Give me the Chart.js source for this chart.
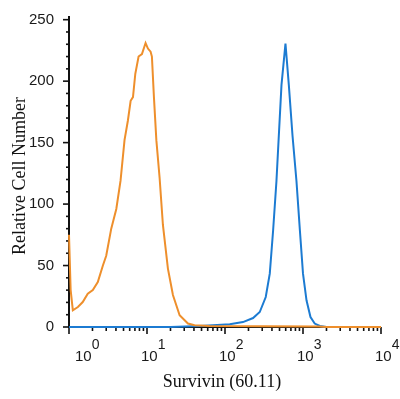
<!DOCTYPE html>
<html>
<head>
<meta charset="utf-8">
<script src="https://cdn.jsdelivr.net/npm/chart.js@4/dist/chart.umd.min.js"></script>
<style>
  body { margin: 0; background: #fff; }
  canvas { display: block; }
</style>
</head>
<body>
<canvas id="histChart" width="400" height="399"></canvas>
<script>
// isotype control (orange) - fluorescence value / cell count
var controlX = [1, 1.05, 1.12, 1.30, 1.50, 1.74, 2.02, 2.34, 2.72, 3.0, 3.48, 4.04, 4.58, 5.15, 5.69, 6.17, 6.61, 7.08, 7.80, 8.61, 9.59, 10.28, 11.12, 11.56, 12.27, 13.18, 14.52, 16.0, 18.54, 21.5, 26.2, 33.5, 40.7, 63, 316, 1585, 2000, 10000]
var controlY = [75, 30, 13.6, 16.3, 20.3, 27, 30, 36.6, 50, 58, 80, 96, 119, 152, 168, 184, 187, 206, 220, 222, 231, 226.5, 224, 220, 187, 152, 121, 83, 47.5, 26, 9.5, 2.8, 1.4, 0.8, 0.6, 0.5, 0, 0]

// Survivin (60.11) stained (blue)
var survivinX = [1, 20, 47.3, 70, 115, 170, 229, 279, 333, 375, 414, 457, 490, 530, 596, 658, 733, 824, 912, 1000, 1109, 1247, 1413, 1644, 2000, 10000]
var survivinY = [0, 0, 0.8, 1.4, 2.2, 4, 7.3, 12.2, 24.4, 43.4, 78.7, 119, 156, 197, 230.6, 197, 156, 119, 78.7, 43.4, 21.7, 8.1, 2.8, 0.8, 0, 0]

var xDecades = [0, 1, 2, 3, 4]
var yLabels = [0, 50, 100, 150, 200, 250]

function toPoints(xs, ys) {
  return xs.map(function (v, i) { return { x: v, y: ys[i] } })
}

var axesPlugin = {
  id: 'flowAxes',
  beforeDatasetsDraw: function (chart) {
    var ctx = chart.ctx
    var a = chart.chartArea
    var x = chart.scales.x
    var y = chart.scales.y
    ctx.save()
    ctx.strokeStyle = '#111'
    ctx.lineWidth = 2
    ctx.beginPath()
    ctx.moveTo(a.left, a.top)
    ctx.lineTo(a.left, a.bottom)
    ctx.lineTo(a.right, a.bottom)
    ctx.stroke()

    // y ticks
    ctx.lineWidth = 1.6
    for (var v = 0; v <= y.max; v += 10) {
      var py = y.getPixelForValue(v)
      var len = (v % 50 === 0) ? 6 : 3
      ctx.beginPath()
      ctx.moveTo(a.left - len, py)
      ctx.lineTo(a.left, py)
      ctx.stroke()
    }
    ctx.fillStyle = '#1a1a1a'
    ctx.font = '15px "Liberation Sans", Arial, sans-serif'
    ctx.textAlign = 'right'
    ctx.textBaseline = 'middle'
    yLabels.forEach(function (v) {
      ctx.fillText(String(v), a.left - 15, y.getPixelForValue(v))
    })

    // x ticks (log decades with minor ticks)
    for (var d = 0; d < 4; d++) {
      for (var m = 1; m <= 9; m++) {
        var px = x.getPixelForValue(m * Math.pow(10, d))
        var l = (m === 1) ? 7 : 4
        ctx.beginPath()
        ctx.moveTo(px, a.bottom)
        ctx.lineTo(px, a.bottom + l)
        ctx.stroke()
      }
    }
    var pEnd = x.getPixelForValue(10000)
    ctx.beginPath()
    ctx.moveTo(pEnd, a.bottom)
    ctx.lineTo(pEnd, a.bottom + 7)
    ctx.stroke()

    ctx.textAlign = 'left'
    ctx.textBaseline = 'alphabetic'
    xDecades.forEach(function (e) {
      var px = x.getPixelForValue(Math.pow(10, e))
      var lx = Math.max(px - 6, a.left + 6)
      ctx.font = '15px "Liberation Sans", Arial, sans-serif'
      ctx.fillText('10', lx, a.bottom + 34)
      var w = ctx.measureText('10').width
      ctx.font = '14px "Liberation Sans", Arial, sans-serif'
      ctx.fillText(String(e), lx + w, a.bottom + 22)
    })

    // axis titles
    ctx.fillStyle = '#111'
    ctx.font = '18px "Liberation Serif", "Times New Roman", serif'
    ctx.textAlign = 'center'
    ctx.fillText('Survivin (60.11)', 222, 387)
    ctx.save()
    ctx.translate(25, 176)
    ctx.rotate(-Math.PI / 2)
    ctx.fillText('Relative Cell Number', 0, 0)
    ctx.restore()
    ctx.restore()
  }
}

var chart = new Chart(document.getElementById('histChart').getContext('2d'), {
  type: 'line',
  data: {
    datasets: [
      {
        label: 'Control',
        data: toPoints(controlX, controlY),
        borderColor: '#ee8f2c',
        borderWidth: 2,
        pointRadius: 0,
        tension: 0,
        clip: false
      },
      {
        label: 'Survivin (60.11)',
        data: toPoints(survivinX, survivinY),
        borderColor: '#1c7bd2',
        borderWidth: 2,
        pointRadius: 0,
        tension: 0,
        clip: false
      }
    ]
  },
  options: {
    responsive: false,
    animation: false,
    layout: { padding: { left: 69, right: 19, top: 16, bottom: 72 } },
    plugins: { legend: { display: false }, tooltip: { enabled: false } },
    scales: {
      x: { type: 'logarithmic', min: 1, max: 10000, display: false },
      y: { type: 'linear', min: 0, max: 253, display: false }
    }
  },
  plugins: [axesPlugin]
})
</script>
</body>
</html>
